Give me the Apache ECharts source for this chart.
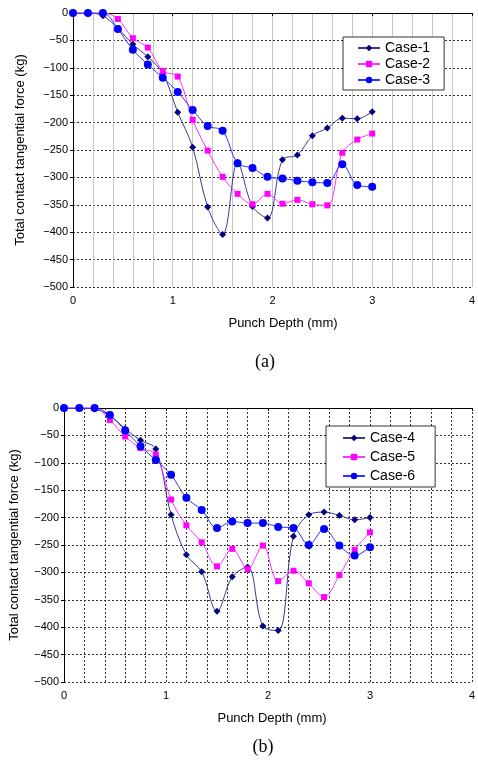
<!DOCTYPE html>
<html>
<head>
<meta charset="utf-8">
<script src="https://cdn.jsdelivr.net/npm/echarts@6/dist/echarts.min.js"></script>
<style>
  html, body { margin: 0; padding: 0; background: #fff; }
  #chart { width: 478px; height: 763px; }
</style>
</head>
<body>
<div id="chart"></div>
<script>
// punch depth (mm), same for every case
const depth = [0, 0.15, 0.3, 0.45, 0.6, 0.75, 0.9, 1.05, 1.2, 1.35, 1.5, 1.65, 1.8, 1.95, 2.1, 2.25, 2.4, 2.55, 2.7, 2.85, 3.0]

// total contact tangential force (kg), chart (a)
const case1 = [0, 0, -5, -28, -57, -80, -110, -181, -245, -354, -404, -273, -353, -374, -268, -259, -224, -210, -192, -193, -180]
const case2 = [0, 0, 0, -11, -46, -63, -106, -116, -195, -251, -299, -330, -349, -330, -348, -341, -349, -351, -255, -231, -220]
const case3 = [0, 0, 0, -29, -67, -94, -118, -144, -177, -206, -215, -274, -283, -299, -302, -306, -309, -310, -276, -314, -317]

// chart (b)
const case4 = [0, 0, -2, -14, -38, -59, -75, -195, -268, -299, -371, -308, -290, -398, -406, -234, -195, -190, -196, -204, -200]
const case5 = [0, 0, 0, -22, -52, -73, -85, -167, -214, -245, -289, -257, -294, -251, -316, -297, -320, -345, -305, -259, -227]
const case6 = [0, 0, 0, -13, -41, -70, -95, -122, -164, -186, -219, -207, -210, -210, -217, -219, -250, -221, -251, -269, -254]

const font = 'Liberation Sans, Arial, sans-serif'

function pairs(vals) {
  return depth.map((d, i) => [d, vals[i]])
}

function makeX(idx, vColor, vType) {
  return {
    type: 'value',
    gridIndex: idx,
    min: 0,
    max: 4,
    interval: 1,
    axisLine: { lineStyle: { color: '#000', width: 1 } },
    axisTick: { show: true, length: 3, lineStyle: { color: '#000' } },
    axisLabel: { color: '#000', fontSize: 11, fontFamily: font, margin: 8 },
    splitLine: { show: true, lineStyle: { color: vColor, width: 1, type: vType } },
    minorTick: { show: false, splitNumber: 5 },
    minorSplitLine: { show: true, lineStyle: { color: vColor, width: 1, type: vType } }
  }
}

function makeY(idx) {
  return {
    type: 'value',
    gridIndex: idx,
    min: -500,
    max: 0,
    interval: 50,
    axisLine: { show: true, lineStyle: { color: '#000', width: 1 } },
    axisTick: { show: true, length: 3, lineStyle: { color: '#000' } },
    axisLabel: {
      color: '#000', fontSize: 11, fontFamily: font, margin: 5,
      formatter: v => String(v).replace('-', '\u2212')
    },
    splitLine: { show: true, showMaxLine: false, lineStyle: { color: '#333', width: 1, type: [2, 2] } }
  }
}

function line(name, vals, idx, kind) {
  const styles = {
    diamond: { symbol: 'diamond', size: 7, color: '#000080', lineColor: '#3a3a8a' },
    square: { symbol: 'rect', size: 6, color: '#ff00ff', lineColor: '#ff33ff' },
    circle: { symbol: 'circle', size: 8, color: '#0000ff', lineColor: '#3030ff' }
  }
  const s = styles[kind]
  return {
    name: name,
    type: 'line',
    xAxisIndex: idx,
    yAxisIndex: idx,
    data: pairs(vals),
    smooth: 0.35,
    symbol: s.symbol,
    symbolSize: s.size,
    showAllSymbol: true,
    itemStyle: { color: s.color },
    lineStyle: { color: s.lineColor, width: 1 },
    animation: false
  }
}

function legendBox(names, left, top, pad, gap) {
  return {
    data: names,
    orient: 'vertical',
    left: left,
    top: top,
    padding: pad,
    itemGap: gap,
    itemWidth: 22,
    itemHeight: 8,
    backgroundColor: '#fff',
    borderColor: '#333',
    borderWidth: 1,
    textStyle: { color: '#000', fontSize: 14, fontFamily: font }
  }
}

const chart = echarts.init(document.getElementById('chart'))
chart.setOption({
  backgroundColor: '#fff',
  animation: false,
  grid: [
    { left: 73, top: 13, width: 403, height: 274 },
    { left: 64, top: 408, width: 414, height: 274 }
  ],
  xAxis: [makeX(0, '#c4c4c4', 'solid'), makeX(1, '#333', [2, 2])],
  yAxis: [makeY(0), makeY(1)],
  legend: [
    legendBox(['Case-1', 'Case-2', 'Case-3'], 343, 37, [4, 14, 3, 14], 2),
    legendBox(['Case-4', 'Case-5', 'Case-6'], 326, 426, [5, 20, 4, 16], 5)
  ],
  series: [
    line('Case-1', case1, 0, 'diamond'),
    line('Case-2', case2, 0, 'square'),
    line('Case-3', case3, 0, 'circle'),
    line('Case-4', case4, 1, 'diamond'),
    line('Case-5', case5, 1, 'square'),
    line('Case-6', case6, 1, 'circle')
  ],
  graphic: [
    { type: 'text', x: 20, y: 150, rotation: Math.PI / 2,
      style: { text: 'Total contact tangential force (kg)', font: '13px ' + font, fill: '#000', align: 'center', verticalAlign: 'middle' } },
    { type: 'text', x: 283, y: 323,
      style: { text: 'Punch Depth (mm)', font: '13px ' + font, fill: '#000', align: 'center', verticalAlign: 'middle' } },
    { type: 'text', x: 265, y: 362,
      style: { text: '(a)', font: '18px Liberation Serif, serif', fill: '#000', align: 'center', verticalAlign: 'middle' } },
    { type: 'text', x: 14, y: 545, rotation: Math.PI / 2,
      style: { text: 'Total contact tangential force (kg)', font: '13px ' + font, fill: '#000', align: 'center', verticalAlign: 'middle' } },
    { type: 'text', x: 272, y: 718,
      style: { text: 'Punch Depth (mm)', font: '13px ' + font, fill: '#000', align: 'center', verticalAlign: 'middle' } },
    { type: 'text', x: 263, y: 747,
      style: { text: '(b)', font: '18px Liberation Serif, serif', fill: '#000', align: 'center', verticalAlign: 'middle' } }
  ]
})
</script>
</body>
</html>
